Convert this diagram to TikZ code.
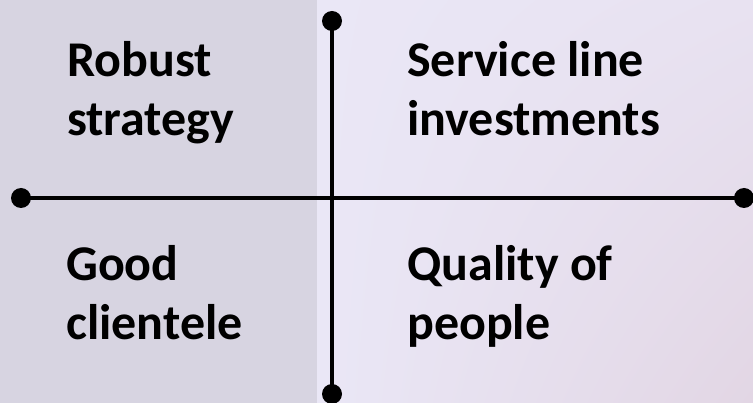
\documentclass[tikz,border=0pt]{standalone}
\usepackage{fontspec}
\setmainfont{Carlito}
\usepackage{tikz}
\usepackage{xcolor}
\usetikzlibrary{positioning, shadings}
\definecolor{cPanel}{RGB}{215,212,225}
\definecolor{cLight}{RGB}{234,231,246}
\definecolor{cLightMid}{RGB}{232,226,241}
\definecolor{cPink}{RGB}{226,214,228}
\tikzset{
	% quadrant labels and axis styles
	quad/.style   ={anchor=base west, align=left, inner sep=0pt, font=\fontsize{50}{59}\selectfont\bfseries},
	axisdot/.style={circle, fill=black, minimum size=20pt, inner sep=0pt},
	axis/.style   ={line width=3.2pt, black},
}

\begin{document}
\begin{tikzpicture}[x=1pt, y=-1pt]
			% background panels
			\shade[upper left=cLight, upper right=cLightMid, lower left=cLight, lower right=cPink] (317,0) rectangle (753,403);
			\fill[cPanel] (0,0) rectangle (317,403);
			\useasboundingbox (0,0) rectangle (753,403);
			% axes with dotted ends
			\node[axisdot] (top) at (332,21) {};
			\node[axisdot] (bottom) at (332,394) {};
			\node[axisdot] (left) at (21,198) {};
			\node[axisdot] (right) at (744,198) {};
			\draw[axis] (top.center) -- (bottom.center);
			\draw[axis] (left.center) -- (right.center);
			% quadrant texts (base sits on the last line)
			\node[quad] (robust) at (67,136) {Robust\\strategy};
			\node[quad] (service) at (407,136) {Service line\\investments};
			\node[quad] (good) at (66,340) {Good\\clientele};
			\node[quad] (quality) at (407,340) {Quality of\\people};
		\end{tikzpicture}
\end{document}
